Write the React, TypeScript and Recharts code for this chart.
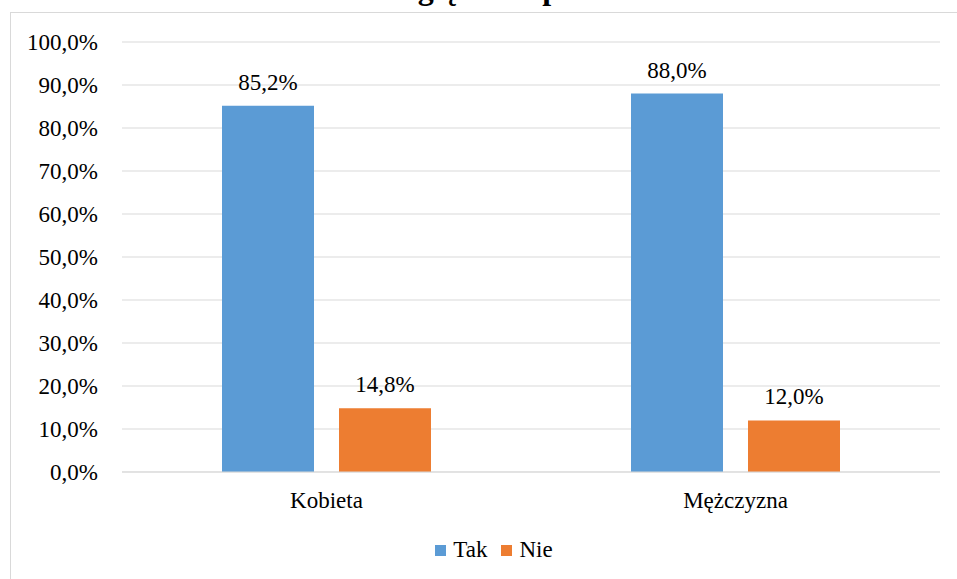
import { BarChart, Bar, XAxis, YAxis, CartesianGrid, LabelList } from "recharts";

const categories = ["Kobieta", "Mężczyzna"];
const takValues = [85.2, 88.0];
const nieValues = [14.8, 12.0];
const yTicks = [0, 10, 20, 30, 40, 50, 60, 70, 80, 90, 100];

const FONT = '"Liberation Serif", "Times New Roman", "DejaVu Serif", serif';
const BLUE = "#5B9BD5";
const ORANGE = "#ED7D31";
const FS = 23;

const fmt = (v: number) => `${v.toFixed(1).replace(".", ",")}%`;

const data = categories.map((name, i) => ({ name, tak: takValues[i], nie: nieValues[i] }));

function LegendRow() {
  const items = [
    { label: "Tak", color: BLUE },
    { label: "Nie", color: ORANGE },
  ];
  return (
    <div
      style={{
        position: "absolute",
        top: 537,
        left: 0,
        width: 988,
        display: "flex",
        justifyContent: "center",
        fontSize: FS,
        lineHeight: "26px",
        color: "#000",
      }}
    >
      {items.map((it, i) => (
        <div key={it.label} style={{ display: "flex", alignItems: "center", marginRight: i === 0 ? 14 : 0 }}>
          <span style={{ width: 11, height: 11, background: it.color, marginRight: 7, display: "inline-block" }} />
          <span>{it.label}</span>
        </div>
      ))}
    </div>
  );
}

export default function App() {
  return (
    <div
      style={{
        position: "fixed",
        top: 0,
        left: 0,
        width: 957,
        height: 579,
        overflow: "hidden",
        background: "#fff",
        fontFamily: FONT,
      }}
    >
      {/* chart frame, cropped on right and bottom */}
      <div
        style={{
          position: "absolute",
          left: 10,
          top: 12,
          width: 980,
          height: 620,
          border: "1px solid #d9d9d9",
        }}
      />
      {/* last line of the title, mostly cut off above the picture */}
      <svg width={957} height={20} style={{ position: "absolute", left: 0, top: 0 }}>
        <text x={489} y={-1} textAnchor="middle" fontFamily={FONT} fontWeight="bold" fontSize={32} fill="#000">
          względu na płeć
        </text>
      </svg>
      <div style={{ position: "absolute", left: 0, top: 0 }}>
        <BarChart
          width={957}
          height={579}
          data={data}
          margin={{ top: 42, right: 17, left: 0, bottom: 77 }}
          barCategoryGap={100}
          barGap={25}
        >
          <CartesianGrid vertical={false} stroke="#d9d9d9" />
          <XAxis
            dataKey="name"
            height={30}
            axisLine={{ stroke: "#d9d9d9" }}
            tickLine={false}
            tickSize={0}
            tickMargin={20}
            tick={{ fontFamily: FONT, fontSize: FS, fill: "#000" }}
          />
          <YAxis
            width={122}
            domain={[0, 100]}
            ticks={yTicks}
            axisLine={false}
            tickLine={false}
            tickSize={0}
            tickMargin={24}
            tickFormatter={fmt}
            tick={{ fontFamily: FONT, fontSize: FS, fill: "#000" }}
          />
          <Bar dataKey="tak" fill={BLUE} isAnimationActive={false}>
            <LabelList dataKey="tak" position="top" offset={16} formatter={fmt} style={{ fontFamily: FONT, fontSize: FS, fill: "#000" }} />
          </Bar>
          <Bar dataKey="nie" fill={ORANGE} isAnimationActive={false}>
            <LabelList dataKey="nie" position="top" offset={16} formatter={fmt} style={{ fontFamily: FONT, fontSize: FS, fill: "#000" }} />
          </Bar>
        </BarChart>
      </div>
      <LegendRow />
    </div>
  );
}
